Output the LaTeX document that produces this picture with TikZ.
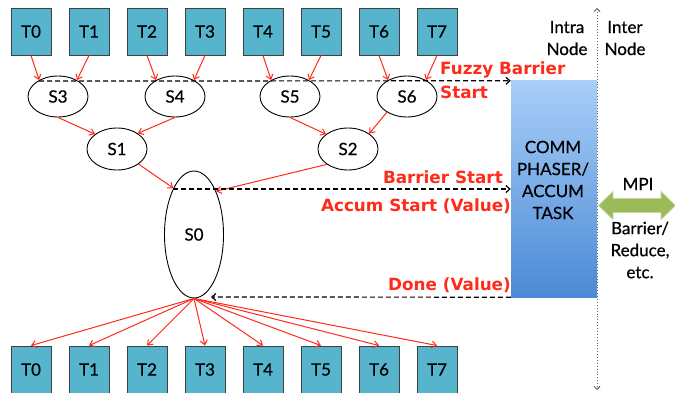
\documentclass[tikz,border=0pt]{standalone}
\usepackage{fontspec}
\setmainfont{Lato}[FakeBold=0.5]
\newfontfamily\redfont{DejaVu Sans}
\usetikzlibrary{shapes.geometric,arrows.meta}
\definecolor{tfill}{HTML}{56B4CD}
\definecolor{redarr}{HTML}{FF2A1A}
\definecolor{commtop}{HTML}{A9CEF8}
\definecolor{commbot}{HTML}{4A8AD6}
\definecolor{mpigreen}{HTML}{9BBB59}
\definecolor{mpiedge}{HTML}{C3D69B}
\begin{document}
\begin{tikzpicture}[x=1pt,y=-1pt,
  tbox/.style={draw=black!75,line width=0.9pt,fill=tfill,minimum width=40pt,minimum height=47pt,inner sep=0pt,font=\fontsize{17}{18}\selectfont},
  ell/.style={draw,ellipse,line width=0.9pt,inner sep=0pt,minimum width=60pt,minimum height=41pt,font=\fontsize{17}{18}\selectfont},
  rarr/.style={draw=redarr,line width=1pt,-{Straight Barb[length=4.5pt,width=7pt]}},
  darr/.style={draw=black,line width=1.2pt,dash pattern=on 5pt off 3pt,-{Straight Barb[length=4pt,width=7pt]}},
  rlab/.style={text=redarr,font=\redfont\fontsize{16.8}{20}\selectfont\bfseries,inner sep=0pt},
  blab/.style={font=\fontsize{17}{22}\selectfont,align=center,inner sep=0pt}]
\useasboundingbox (0,0) rectangle (675,393);
% tasks
\foreach \i/\x in {0/31,1/89,2/147,3/205,4/263,5/321,6/379,7/437}{
  \node[tbox] (t\i) at (\x,31.5) {T\i};
  \node[tbox] (b\i) at (\x,369.5) {T\i};
}
% ellipses
\node[ell] (s3) at (58,96.5) {S3};
\node[ell] (s4) at (175,96.5) {S4};
\node[ell] (s5) at (290,96.5) {S5};
\node[ell] (s6) at (407,96.5) {S6};
\node[ell,minimum height=42pt] (s1) at (117,149) {S1};
\node[ell,minimum height=42pt] (s2) at (348,149) {S2};
\node[ell,minimum width=59pt,minimum height=127pt] (s0) at (194,234.5) {S0};
% comm box
\node[draw=none,top color=commtop,bottom color=commbot,minimum width=86pt,minimum height=216pt,inner sep=0pt] (comm) at (554,189) {};
\node[blab] (commtxt) at (553,180) {COMM\\PHASER/\\ACCUM\\TASK};
% dotted separator
\coordinate (vtop) at (597,8);
\coordinate (vbot) at (597,390);
\draw[black!60,dotted,line width=0.9pt,{Straight Barb[length=3pt,width=6pt]}-{Straight Barb[length=3pt,width=6pt]}] (vtop) -- (vbot);
\node[blab] (intra) at (567,38) {Intra\\Node};
\node[blab] (inter) at (625,38) {Inter\\Node};
% MPI double arrow
\draw[draw=mpiedge,line width=0.8pt,fill=mpigreen,line join=round]
  (598.5,205.5) -- (613,191.5) -- (613,198.5) -- (661,198.5) -- (661,191.5) -- (675.5,205.5)
  -- (661,219.5) -- (661,212.5) -- (613,212.5) -- (613,219.5) -- cycle;
\node[blab] (mpitxt) at (638,184) {MPI};
\node[blab] (brtxt) at (640,250) {Barrier/\\Reduce,\\etc.};
% red arrows
\draw[rarr] (t0.south) -- (s3.139);
\draw[rarr] (t1.south) -- (s3.41);
\draw[rarr] (t2.south) -- (s4.139);
\draw[rarr] (t3.south) -- (s4.41);
\draw[rarr] (t4.south) -- (s5.139);
\draw[rarr] (t5.south) -- (s5.41);
\draw[rarr] (t6.south) -- (s6.139);
\draw[rarr] (t7.south) -- (s6.41);
\draw[rarr] (s3.south) -- (s1.146);
\draw[rarr] (s4.south) -- (s1.37);
\draw[rarr] (s5.south) -- (s2.146);
\draw[rarr] (s6.218) -- (s2.36);
\draw[rarr] (s1.325) -- (s0.114);
\draw[rarr] (s2.216) -- (s0.63);
\foreach \i in {0,...,7}{\draw[rarr] (s0.south) -- (b\i.north);}
% dashed arrows
\coordinate (fb) at (39,81);
\coordinate (bs) at (173,189);
\coordinate (dn) at (211,297);
\draw[darr] (fb) -- (comm.north west);
\draw[darr] (bs) -- (comm.west |- bs);
\draw[darr] (comm.south west) -- (dn);
% red labels
\node[rlab,anchor=west] (fz1) at (440,70) {Fuzzy Barrier};
\node[rlab,anchor=west] (fz2) at (440,92) {Start};
\node[rlab,anchor=east] (bst) at (503,177) {Barrier Start};
\node[rlab,anchor=east] (ast) at (511,206) {Accum Start (Value)};
\node[rlab,anchor=east] (dnv) at (511,285) {Done (Value)};
\end{tikzpicture}
\end{document}
